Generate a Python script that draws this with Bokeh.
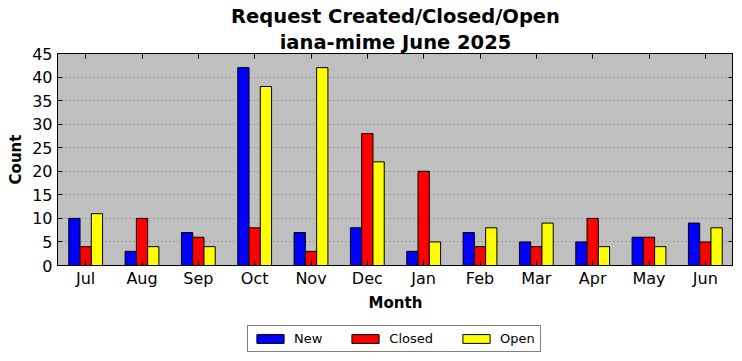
from bokeh.plotting import figure
from bokeh.layouts import column
from bokeh.models import (ColumnDataSource, FactorRange, Range1d, Legend, LegendItem,
                          Title, LinearAxis, CategoricalAxis, FixedTicker)
from bokeh.transform import dodge
from bokeh.embed import file_html
from bokeh.resources import INLINE

months = ["Jul", "Aug", "Sep", "Oct", "Nov", "Dec", "Jan", "Feb", "Mar", "Apr", "May", "Jun"]
new_counts = [10, 3, 7, 42, 7, 8, 3, 7, 5, 5, 6, 9]
closed_counts = [4, 10, 6, 8, 3, 28, 20, 4, 4, 10, 6, 5]
open_counts = [11, 4, 4, 38, 42, 22, 5, 8, 9, 4, 4, 8]
y_ticks = [0, 5, 10, 15, 20, 25, 30, 35, 40, 45]
series_names = ["New", "Closed", "Open"]
series_cols = ["new", "closed", "open"]
series_offsets = [-0.2, 0.0, 0.2]
series_colors = ["#0000ff", "#ff0000", "#ffff00"]

FONT = "DejaVu Sans"

src = ColumnDataSource(dict(month=months, new=new_counts, closed=closed_counts, open=open_counts))

x_range = FactorRange(*months, range_padding=0)

p = figure(x_range=x_range, y_range=Range1d(0, 45),
           frame_width=676, frame_height=212,
           min_border_left=0, min_border_right=0, min_border_top=0, min_border_bottom=0,
           output_backend="svg", toolbar_location=None,
           title="Request Created/Closed/Open")
p.margin = (1, 0, 0, 4)

p.background_fill_color = "#bfbfbf"
p.border_fill_color = "white"
p.outline_line_color = "black"
p.outline_line_width = 1

p.title.text_font = FONT
p.title.text_font_size = "19.5px"
p.title.text_font_style = "bold"
p.title.text_color = "black"
p.title.align = "center"
p.title.standoff = 2
p.title.offset = 0

for col, off, color in zip(series_cols, series_offsets, series_colors):
    p.vbar(x=dodge("month", off, range=x_range), top=col, width=0.2, source=src,
           fill_color=color, line_color="black", line_width=1)

# axes
xa = p.xaxis[0]
ya = p.yaxis[0]
ya.ticker = FixedTicker(ticks=y_ticks)
for ax in (xa, ya):
    ax.major_tick_in = 5
    ax.major_tick_out = 0
    ax.minor_tick_line_color = None
    ax.axis_line_color = "black"
    ax.major_label_text_font = FONT
    ax.major_label_text_font_size = "16px"
    ax.major_label_text_color = "black"
    ax.axis_label_text_font = FONT
    ax.axis_label_text_font_size = "15px"
    ax.axis_label_text_font_style = "bold"
    ax.axis_label_text_color = "black"
xa.axis_label = "Month"
ya.axis_label = "Count"
xa.major_label_standoff = 3
ya.major_label_standoff = 5
xa.axis_label_standoff = 3
ya.axis_label_standoff = 4

top_ax = CategoricalAxis(major_tick_in=5, major_tick_out=0, major_label_text_font_size="0px",
                         major_label_standoff=0, axis_line_color="black")
right_ax = LinearAxis(ticker=FixedTicker(ticks=y_ticks), major_tick_in=5, major_tick_out=0,
                      minor_tick_line_color=None, major_label_text_font_size="0px",
                      major_label_standoff=0, axis_line_color="black")
p.add_layout(top_ax, "above")
p.add_layout(right_ax, "right")

sub = Title(text="iana-mime June 2025", text_font=FONT, text_font_size="19.5px",
            text_font_style="bold", text_color="black", align="center", standoff=0, offset=0)
p.add_layout(sub, "above")

p.xgrid.grid_line_color = None
p.ygrid.ticker = FixedTicker(ticks=y_ticks)
p.ygrid.grid_line_color = "#7a7a7a"
p.ygrid.grid_line_dash = "1 3"
p.ygrid.grid_line_width = 1

# legend strip below the chart (separate small canvas so the legend is not clipped);
# its series renderers share the data but lie outside this strip's visible y range
lp = figure(width=726, height=44, x_range=x_range, y_range=Range1d(100, 101),
            x_axis_location=None, y_axis_location=None, toolbar_location=None,
            min_border_left=0, min_border_right=0, min_border_top=0, min_border_bottom=0,
            output_backend="svg")
lp.outline_line_color = None
lp.background_fill_color = "white"
lp.border_fill_color = "white"
lp.grid.visible = False

items = []
for name, col, off, color in zip(series_names, series_cols, series_offsets, series_colors):
    r = lp.vbar(x=dodge("month", off, range=x_range), top=col, width=0.2, source=src,
                fill_color=color, line_color="black", line_width=1)
    items.append(LegendItem(label=name, renderers=[r]))

legend = Legend(items=items, orientation="horizontal", location=(194, 6),
                glyph_width=34, glyph_height=11, label_standoff=7, spacing=26,
                padding=5, margin=0, label_height=12,
                label_text_font=FONT, label_text_font_size="13px", label_text_color="black",
                border_line_color="black", border_line_width=1,
                background_fill_color="white", background_fill_alpha=1)
lp.add_layout(legend, "center")

layout = column(p, lp, spacing=0)
open("out.html", "w").write(file_html(layout, INLINE))
